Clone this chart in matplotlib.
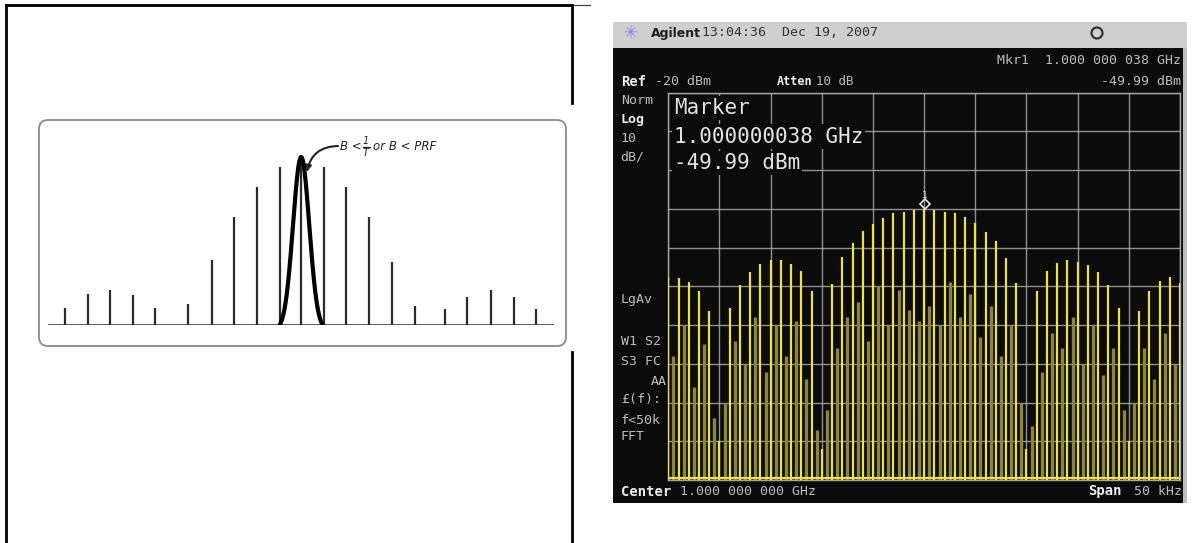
import numpy as np
import matplotlib
matplotlib.use("Agg")
import matplotlib.pyplot as plt
from matplotlib.patches import FancyBboxPatch, Rectangle, Circle
from matplotlib import transforms

# ---------------- data: line spectrum sketch (left) ----------------
sketch_freq = [-10.45, -9.45, -8.45, -7.45, -6.45, -5.0, -3.95, -2.95, -1.95, -0.95,
               0.0, 1.0, 2.0, 3.0, 4.0, 5.05, 6.35, 7.35, 8.4, 9.4, 10.4]
sketch_amp = [0.10, 0.18, 0.20, 0.17, 0.095, 0.12, 0.37, 0.62, 0.79, 0.905,
              0.95, 0.905, 0.79, 0.615, 0.36, 0.11, 0.09, 0.16, 0.20, 0.16, 0.09]
filter_peak = 0.96
filter_sigma = 0.36
filter_halfspan = 0.95

# ---------------- data: analyzer trace (right) ----------------
pulse_lines_khz = list(range(-25, 26))
pulse_lines_dbm = [-67.7, -67.8, -69.0, -71.3, -76.4, -110.0, -75.6, -69.7, -66.3, -64.2,
                   -63.3, -63.1, -64.2, -66.1, -71.1, -112.0, -69.3, -62.5, -58.8, -55.7,
                   -53.9, -52.4, -51.1, -50.7, -50.2, -49.99, -50.2, -50.9, -51.1, -52.2,
                   -53.7, -56.0, -58.4, -62.7, -69.1, -112.0, -71.1, -66.1, -64.0, -63.1,
                   -63.6, -64.4, -66.3, -69.6, -75.6, -110.0, -76.4, -71.1, -68.7, -67.7,
                   -69.1]
trace2_khz = [k + 0.5 for k in range(-25, 25)]
trace2_dbm = [-88, -80, -96, -85, -104, -100, -84, -90, -78, -92,
              -80, -88, -79, -94, -107, -102, -86, -78, -74, -84,
              -70, -80, -71, -76, -79, -75, -80, -69, -78, -72,
              -83, -75, -88, -80, -100, -106, -92, -82, -86, -78,
              -90, -80, -93, -86, -102, -100, -86, -94, -82, -90]
marker_khz = 0.038
marker_dbm = -49.99
ref_level = -20
db_per_div = 10
span_khz = 50

W, H = 1203, 543
fig = plt.figure(figsize=(W / 100, H / 100), dpi=100)
fig.patch.set_facecolor('white')

# background layer in pixel units
bg = fig.add_axes([0, 0, 1, 1], zorder=0)
bg.set_xlim(0, W)
bg.set_ylim(H, 0)
bg.axis('off')

# table rules
bg.plot([5, 573], [5, 5], color='black', lw=2.0, solid_capstyle='butt')
bg.plot([573, 590], [5, 5], color='#444444', lw=0.9)
bg.plot([6, 6], [5, H], color='black', lw=2.0)
bg.plot([572, 572], [5, 103], color='black', lw=2.0)
bg.plot([572, 572], [352, H], color='black', lw=2.0)

# rounded frame of the sketch
bg.add_patch(FancyBboxPatch((39, 120), 527, 226,
                            boxstyle="round,pad=0,rounding_size=9",
                            facecolor='white', edgecolor='#8a8a8a', lw=1.3))

# ---------------- left sketch ----------------
px_l, px_r, base_y, top_y = 48, 554.3, 325, 150
sk = fig.add_axes([px_l / W, 1 - base_y / H, (px_r - px_l) / W, (base_y - top_y) / H],
                  zorder=2)
sk.set_xlim(-11.2, 11.2)
sk.set_ylim(0, 1)
sk.axis('off')
sk.patch.set_alpha(0)
sk.axhline(0, color='#2b2b2b', lw=1.8)
sk.vlines(sketch_freq, 0, sketch_amp, color='#2b2b2b', lw=1.6)
fx = np.linspace(-filter_halfspan, filter_halfspan, 200)
e0 = np.exp(-0.5 * (filter_halfspan / filter_sigma) ** 2)
fy = filter_peak * (np.exp(-0.5 * (fx / filter_sigma) ** 2) - e0) / (1 - e0)
sk.plot(fx, fy, color='black', lw=3.0, solid_capstyle='round')

# bandwidth condition label:  B < 1/T  or  B < PRF
ink = '#222222'
lbl = dict(fontsize=8.5, style='italic', color=ink, va='center', zorder=3)
bg.text(340, 147, 'B <', ha='left', **lbl)
bg.text(366, 140.5, '1', ha='center', fontsize=7, style='italic', color=ink,
        va='center', zorder=3)
bg.plot([362.5, 369.5], [146.8, 146.8], color=ink, lw=0.9, zorder=3)
bg.text(366, 153, 'T', ha='center', fontsize=7, style='italic', color=ink,
        va='center', zorder=3)
bg.text(373, 147, 'or B < PRF', ha='left', **lbl)
bg.annotate("", xy=(307, 172), xytext=(338, 146),
            arrowprops=dict(arrowstyle='-|>', color=ink, lw=1.5,
                            mutation_scale=9,
                            connectionstyle="arc3,rad=0.4",
                            shrinkA=0, shrinkB=0), zorder=3)

# ---------------- analyzer screen frame ----------------
bg.add_patch(Rectangle((613, 22), 574, 27, facecolor='#cfcfcf', edgecolor='none'))
bg.add_patch(Rectangle((613, 48), 571, 455, facecolor='#0b0b0b', edgecolor='none'))
bg.add_patch(Rectangle((1183, 48), 4, 455, facecolor='#bdbdbd', edgecolor='none'))

mono = 'DejaVu Sans Mono'
bg.text(630, 33, '\u2733', fontsize=12, color='#8a7fe0', ha='center', va='center')
bg.text(651, 33, 'Agilent', fontsize=9, fontweight='bold', color='#1e1e1e',
        ha='left', va='center', family='DejaVu Sans')
bg.text(702, 33, '13:04:36  Dec 19, 2007', fontsize=9.5, color='#333333',
        ha='left', va='center', family=mono)
bg.add_patch(Circle((1097, 33), 5.5, facecolor='none', edgecolor='#2a2a2a', lw=1.5))

lab = '#bdbdbd'
hi = '#eeeeee'
bg.text(1181, 60, 'Mkr1  1.000 000 038 GHz', fontsize=9.5, color=lab,
        ha='right', va='center', family=mono)
bg.text(1181, 81.5, '-49.99 dBm', fontsize=9.5, color=lab,
        ha='right', va='center', family=mono)
bg.text(620.7, 81.5, 'Ref', fontsize=10, color=hi, fontweight='bold',
        ha='left', va='center', family=mono)
bg.text(655, 81.5, '-20 dBm', fontsize=9.5, color=lab,
        ha='left', va='center', family=mono)
bg.text(776.7, 81.5, 'Atten', fontsize=8.5, color=hi, fontweight='bold',
        ha='left', va='center', family=mono)
bg.text(816, 81.5, '10 dB', fontsize=9, color=lab,
        ha='left', va='center', family=mono)

side = [('Norm', 100, False), ('Log', 120, True), ('10', 138.5, False),
        ('dB/', 156.5, False), ('LgAv', 299, False), ('W1 S2', 341.5, False),
        ('S3 FC', 361.5, False), ('\u00a3(f):', 400, False),
        ('f<50k', 420, False), ('FFT', 437, False)]
for s, yy, bold in side:
    bg.text(620.7, yy, s, fontsize=9.5, color=hi if bold else lab,
            fontweight='bold' if bold else 'normal',
            ha='left', va='center', family=mono)
bg.text(667, 381.5, 'AA', fontsize=9.5, color=lab, ha='right', va='center', family=mono)

bg.text(620.7, 491.5, 'Center', fontsize=10, color=hi, fontweight='bold',
        ha='left', va='center', family=mono)
bg.text(680, 491.5, '1.000 000 000 GHz', fontsize=9.5, color=lab,
        ha='left', va='center', family=mono)
bg.text(1088, 491.5, 'Span', fontsize=10, color=hi, fontweight='bold',
        ha='left', va='center', family=mono)
bg.text(1182, 491.5, '50 kHz', fontsize=9.5, color=lab,
        ha='right', va='center', family=mono)

# ---------------- analyzer graticule and trace ----------------
g_l, g_r, g_t, g_b = 668.3, 1180, 92.7, 480
sa = fig.add_axes([g_l / W, 1 - g_b / H, (g_r - g_l) / W, (g_b - g_t) / H], zorder=3)
sa.set_facecolor('#0b0b0b')
sa.set_xlim(-span_khz / 2, span_khz / 2)
bottom_level = ref_level - 10 * db_per_div
sa.set_ylim(bottom_level, ref_level)
sa.set_xticks(np.linspace(-span_khz / 2, span_khz / 2, 11))
sa.set_yticks(np.linspace(bottom_level, ref_level, 11))
sa.tick_params(length=0, labelbottom=False, labelleft=False)
sa.grid(True, color='#a8a8a8', lw=1.0, alpha=0.85)
sa.set_axisbelow(True)
for sp in sa.spines.values():
    sp.set_color('#a8a8a8')
    sp.set_linewidth(1.0)

yel = '#ebe14a'
dim = '#8b8540'
sa.vlines(trace2_khz, bottom_level, trace2_dbm, color=dim, lw=2.4, zorder=2)
sa.vlines(pulse_lines_khz, bottom_level, pulse_lines_dbm, color=yel, lw=1.6, zorder=3)
sa.axhline(bottom_level + 0.4, color=yel, lw=1.6, zorder=3)

# marker 1
off = transforms.offset_copy(sa.transData, fig=fig, x=0, y=4.5, units='dots')
sa.plot([marker_khz], [marker_dbm], marker='D', ms=5, mfc='none', mec='#e6e6e6',
        mew=1.2, transform=off, zorder=5, clip_on=False)
off2 = transforms.offset_copy(sa.transData, fig=fig, x=0, y=13, units='dots')
sa.text(marker_khz, marker_dbm, '1', fontsize=6.5, color='#e6e6e6', ha='center',
        va='center', transform=off2, family=mono, zorder=5)

# marker readout block
mk_lines = [('Marker', 108), ('1.000000038 GHz', 136.5), ('-49.99 dBm', 163)]
for s, yy in mk_lines:
    sa.text(674 / W, 1 - yy / H, s, transform=fig.transFigure, fontsize=15,
            color='#e4e4e4', family=mono, ha='left', va='center', zorder=6,
            bbox=dict(facecolor='#0b0b0b', edgecolor='none', pad=1.5))

fig.savefig('out.png', dpi=100)
